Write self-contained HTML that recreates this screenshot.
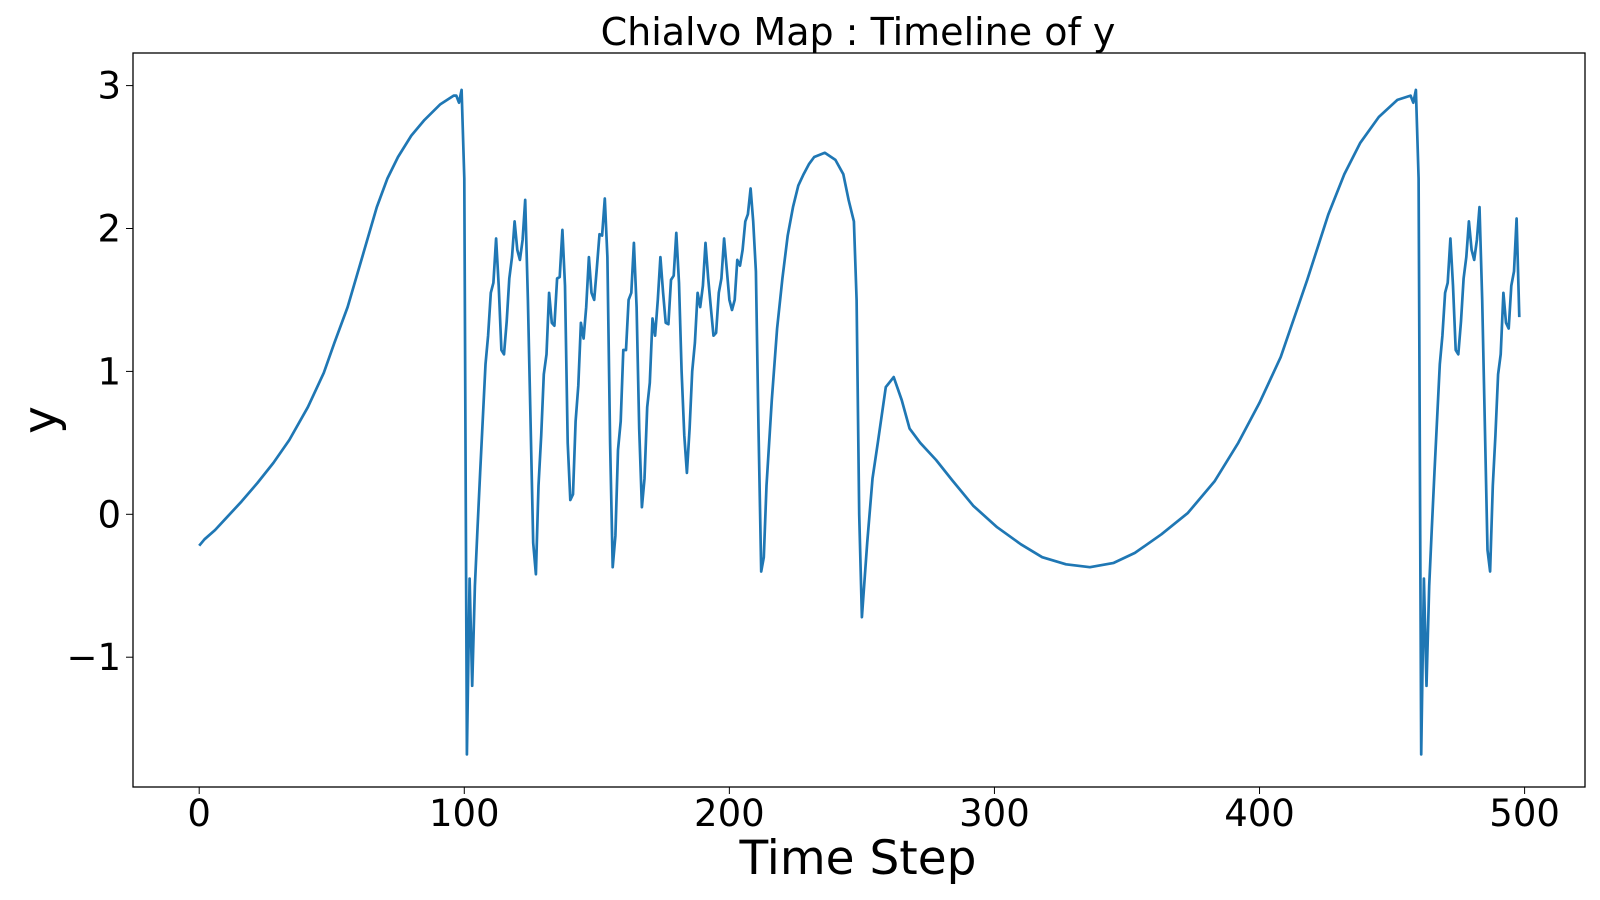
<!DOCTYPE html>
<html><head><meta charset="utf-8"><style>
html,body{margin:0;padding:0;background:#fff;}
svg{display:block;font-family:"DejaVu Sans","Liberation Sans",sans-serif;}
</style></head><body>
<svg id="chart" width="1600" height="900" viewBox="0 0 1600 900" xmlns="http://www.w3.org/2000/svg">
<rect x="0" y="0" width="1600" height="900" fill="#fff"/>
<text x="858" y="45" font-size="38" text-anchor="middle" fill="#000">Chialvo Map : Timeline of y</text>
<text x="858" y="874" font-size="47" text-anchor="middle" fill="#000">Time Step</text>
<text transform="translate(56,420) rotate(-90)" font-size="47" text-anchor="middle" fill="#000">y</text>
<g id="ticks"></g>
<path id="line" fill="none" stroke="#1f77b4" stroke-width="2.7" stroke-linejoin="round"/>
<rect x="133" y="53" width="1452" height="734" fill="none" stroke="#000" stroke-width="1.3"/>
</svg>
<script>
const xTicks = [0,100,200,300,400,500];
const yTicks = [-1,0,1,2,3];
const T = [0,2,6,10,16,22,28,34,41,47,51,56,62,67,71,75,80,85,91,96,97,98,99,100,101,102,103,104,105,106,108,109,110,111,112,113,114,115,116,117,118,119,120,121,122,123,124,126,127,128,129,130,131,132,133,134,135,136,137,138,139,140,141,142,143,144,145,146,147,148,149,150,151,152,153,154,155,156,157,158,159,160,161,162,163,164,165,166,167,168,169,170,171,172,173,174,175,176,177,178,179,180,181,182,183,184,185,186,187,188,189,190,191,192,193,194,195,196,197,198,199,200,201,202,203,204,205,206,207,208,209,210,211,212,213,214,216,218,220,222,224,226,228,230,232,236,240,243,245,247,248,249,250,252,254,256,259,262,265,268,272,278,284,292,301,310,318,327,336,345,353,363,373,383,392,400,408,418,426,432,438,445,452,457,458,459,460,461,462,463,464,465,466,468,469,470,471,472,473,474,475,476,477,478,479,480,481,482,483,484,486,487,488,489,490,491,492,493,494,495,496,497,498];
const Y = [-0.22,-0.175,-0.11,-0.03,0.09,0.22,0.36,0.52,0.75,0.99,1.2,1.45,1.83,2.15,2.35,2.5,2.65,2.76,2.87,2.93,2.93,2.88,2.97,2.35,-1.68,-0.45,-1.2,-0.5,-0.1,0.3,1.05,1.25,1.55,1.62,1.93,1.6,1.15,1.12,1.35,1.65,1.8,2.05,1.85,1.78,1.92,2.2,1.5,-0.2,-0.42,0.2,0.55,0.98,1.12,1.55,1.34,1.32,1.65,1.66,1.99,1.6,0.5,0.1,0.14,0.65,0.9,1.34,1.23,1.45,1.8,1.55,1.5,1.72,1.96,1.95,2.21,1.8,0.5,-0.37,-0.15,0.45,0.65,1.15,1.15,1.5,1.55,1.9,1.45,0.6,0.05,0.25,0.75,0.92,1.37,1.25,1.5,1.8,1.55,1.34,1.33,1.64,1.67,1.97,1.62,1.0,0.55,0.29,0.6,1.0,1.2,1.55,1.45,1.6,1.9,1.65,1.45,1.25,1.27,1.55,1.65,1.93,1.72,1.5,1.43,1.5,1.78,1.74,1.85,2.05,2.1,2.28,2.05,1.7,0.6,-0.4,-0.3,0.2,0.8,1.3,1.65,1.95,2.15,2.3,2.38,2.45,2.5,2.53,2.48,2.38,2.2,2.05,1.5,0,-0.72,-0.2,0.25,0.5,0.89,0.96,0.8,0.6,0.5,0.38,0.24,0.06,-0.09,-0.21,-0.3,-0.35,-0.37,-0.34,-0.27,-0.14,0.01,0.23,0.5,0.78,1.1,1.64,2.1,2.38,2.6,2.78,2.9,2.93,2.88,2.97,2.35,-1.68,-0.45,-1.2,-0.5,-0.1,0.3,1.05,1.25,1.55,1.62,1.93,1.6,1.15,1.12,1.35,1.65,1.8,2.05,1.85,1.78,1.92,2.15,1.5,-0.25,-0.4,0.2,0.55,0.98,1.12,1.55,1.34,1.3,1.6,1.7,2.07,1.38];

const xs = v => 199.2 + v * (1524.6 - 199.2) / 500;
const ys = v => 514.3 - v * 142.9;

const g = document.getElementById('ticks');
const NS = 'http://www.w3.org/2000/svg';
xTicks.forEach(t => {
  const l = document.createElementNS(NS, 'line');
  l.setAttribute('x1', xs(t)); l.setAttribute('x2', xs(t));
  l.setAttribute('y1', 787); l.setAttribute('y2', 794);
  l.setAttribute('stroke', '#000');
  
  
  g.appendChild(l);
  const tx = document.createElementNS(NS, 'text');
  tx.setAttribute('x', xs(t)); tx.setAttribute('y', 826);
  tx.setAttribute('font-size', '37'); tx.setAttribute('text-anchor', 'middle');
  tx.textContent = String(t);
  
  
  g.appendChild(tx);
});
yTicks.forEach(t => {
  const l = document.createElementNS(NS, 'line');
  l.setAttribute('x1', 126); l.setAttribute('x2', 133);
  l.setAttribute('y1', ys(t)); l.setAttribute('y2', ys(t));
  l.setAttribute('stroke', '#000');
  
  
  g.appendChild(l);
  const tx = document.createElementNS(NS, 'text');
  tx.setAttribute('x', 121); tx.setAttribute('y', ys(t) + 13);
  tx.setAttribute('font-size', '37'); tx.setAttribute('text-anchor', 'end');
  tx.textContent = t < 0 ? '\u2212' + Math.abs(t) : String(t);
  
  
  g.appendChild(tx);
});
let d = '';
T.forEach((t, i) => { d += (i ? 'L' : 'M') + xs(t).toFixed(1) + ',' + ys(Y[i]).toFixed(1); });
document.getElementById('line').setAttribute('d', d);
</script>
</body></html>
